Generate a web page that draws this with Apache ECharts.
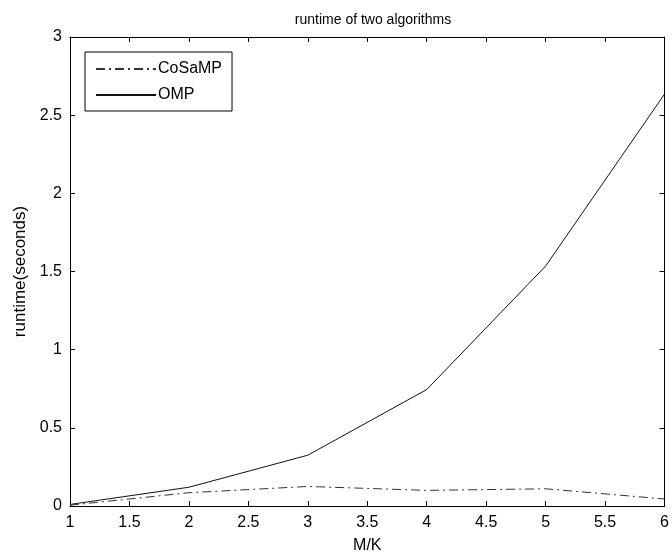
<!DOCTYPE html>
<html>
<head>
<meta charset="utf-8">
<script src="https://cdn.jsdelivr.net/npm/echarts@6/dist/echarts.min.js"></script>
<style>
  html, body { margin: 0; padding: 0; background: #fff; }
  #chart { width: 672px; height: 559px; }
</style>
</head>
<body>
<div id="chart"></div>
<script>
// M/K ratio sampled at each integer step
const ratios = [1, 2, 3, 4, 5, 6];
// Runtime in seconds for each algorithm
const cosampRuntime = [0.005, 0.085, 0.125, 0.100, 0.110, 0.045];
const ompRuntime = [0.010, 0.120, 0.325, 0.745, 1.535, 2.635];
const seriesNames = ['CoSaMP', 'OMP'];

const FONT = 'Liberation Sans, Arial, sans-serif';
const INK = '#000';

const pairs = (xs, ys) => xs.map((x, i) => [x, ys[i]]);

const chart = echarts.init(document.getElementById('chart'));

// Mirror axes on the top and right close the box and carry inward ticks
const mirrorAxis = (pos, isX) => ({
  type: 'value',
  position: pos,
  min: isX ? 1 : 0,
  max: isX ? 6 : 3,
  interval: 0.5,
  axisLine: { show: true, onZero: false, lineStyle: { color: INK, width: 1 } },
  axisTick: { show: true, inside: true, length: 5, lineStyle: { color: INK } },
  axisLabel: { show: false },
  splitLine: { show: false }
});

chart.setOption({
  animation: false,
  backgroundColor: '#fff',
  title: {
    text: 'runtime of two algorithms',
    left: 368,
    textAlign: 'center',
    top: 8,
    textStyle: { fontFamily: FONT, fontSize: 14, fontWeight: 'normal', color: INK }
  },
  grid: { left: 70, right: 6, top: 37, bottom: 51, containLabel: false },
  legend: {
    orient: 'vertical',
    left: 85,
    top: 52,
    padding: [9, 10, 8, 10],
    itemGap: 10,
    itemWidth: 60,
    itemHeight: 14,
    borderColor: INK,
    borderWidth: 1,
    backgroundColor: '#fff',
    itemStyle: { opacity: 0 },
    textStyle: { fontFamily: FONT, fontSize: 16, color: INK, padding: [0, 0, 0, -3] },
    data: seriesNames
  },
  xAxis: [
    {
      type: 'value',
      position: 'bottom',
      min: 1, max: 6, interval: 0.5,
      name: 'M/K',
      nameLocation: 'middle',
      nameGap: 32,
      nameTextStyle: { fontFamily: FONT, fontSize: 16, color: INK },
      axisLine: { show: true, onZero: false, lineStyle: { color: INK, width: 1 } },
      axisTick: { show: true, inside: true, length: 5, lineStyle: { color: INK } },
      axisLabel: { fontFamily: FONT, fontSize: 16, color: INK, margin: 9 },
      splitLine: { show: false }
    },
    mirrorAxis('top', true)
  ],
  yAxis: [
    {
      type: 'value',
      position: 'left',
      min: 0, max: 3, interval: 0.5,
      name: 'runtime(seconds)',
      nameLocation: 'middle',
      nameGap: 40,
      nameTextStyle: { fontFamily: FONT, fontSize: 17, color: INK },
      axisLine: { show: true, lineStyle: { color: INK, width: 1 } },
      axisTick: { show: true, inside: true, length: 5, lineStyle: { color: INK } },
      axisLabel: { fontFamily: FONT, fontSize: 16, color: INK, margin: 8 },
      splitLine: { show: false }
    },
    mirrorAxis('right', false)
  ],
  series: [
    {
      name: seriesNames[0],
      type: 'line',
      data: pairs(ratios, cosampRuntime),
      symbol: 'none',
      lineStyle: { color: '#333', width: 1, type: [9, 4, 2, 4] },
      itemStyle: { color: '#333' }
    },
    {
      name: seriesNames[1],
      type: 'line',
      data: pairs(ratios, ompRuntime),
      symbol: 'none',
      lineStyle: { color: '#111', width: 1, type: 'solid' },
      itemStyle: { color: '#111' }
    }
  ]
});
</script>
</body>
</html>
